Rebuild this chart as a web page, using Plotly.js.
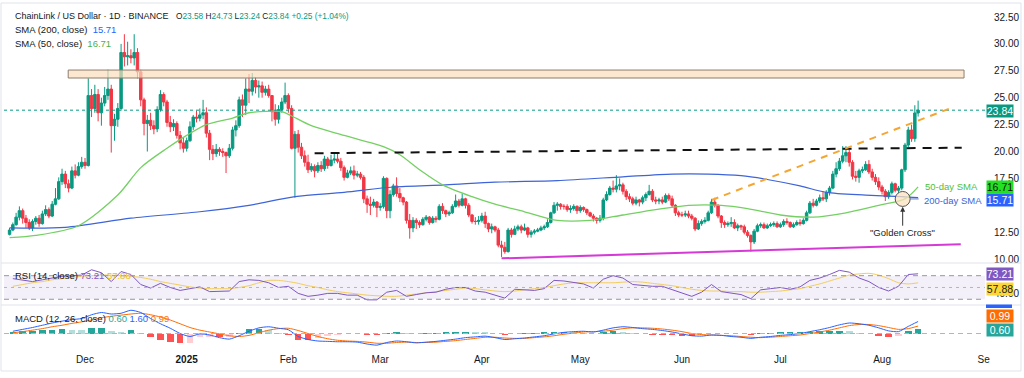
<!DOCTYPE html>
<html><head><meta charset="utf-8">
<script src="https://cdn.plot.ly/plotly-3.0.1.min.js"></script>
<style>html,body{margin:0;padding:0;background:#fff;overflow:hidden}#chart{width:1024px;height:378px}</style>
</head><body><div id="chart"></div>
<script>
// ---------- DATA ----------
const firstCandle = [2024, 10, 8];   // 2024-11-08, daily candles
const opens = [
 12.3,12.7,13.2,13.9,14.5,13.8,13.4,12.9,13.5,13.8,13.3,14.2,14.6,14.0,15.1,15.6,17.2,17.9,17.0,16.6,18.2,17.8,18.6,
 19.0,18.7,25.2,24.0,25.3,23.6,24.5,25.2,25.8,22.4,23.0,24.0,29.2,28.8,28.9,28.7,29.2,27.4,24.8,22.6,22.9,22.4,22.1,23.9,25.3,24.6,22.7,22.3,22.6,21.5,20.8,
 20.3,21.0,22.3,23.2,23.1,23.4,23.6,21.7,20.2,19.8,20.2,20.0,19.9,19.6,20.3,22.0,22.4,24.8,24.3,25.8,25.6,26.6,26.0,26.1,25.5,25.8,25.2,23.7,23.0,23.9,24.6,
 25.2,24.0,20.3,21.6,20.4,19.6,19.0,18.3,18.6,18.2,18.7,18.4,19.3,18.7,19.2,19.3,19.1,18.5,17.6,18.0,18.2,17.8,17.9,17.6,15.6,15.1,15.0,15.3,
 14.8,14.9,17.5,14.5,16.0,16.8,16.1,15.7,15.3,13.6,12.9,13.6,13.4,13.2,13.7,13.9,13.4,13.8,13.7,14.9,14.5,14.2,14.3,14.9,15.4,15.0,15.6,15.0,14.1,13.5,13.5,
 13.6,14.0,13.3,12.8,13.0,12.7,11.3,11.1,10.7,12.7,12.3,12.8,13.0,12.7,12.9,12.3,12.5,12.6,12.7,12.9,13.0,13.4,14.3,15.0,15.1,14.9,14.9,14.6,14.7,14.9,
 14.5,14.8,14.6,14.3,14.0,13.8,13.6,13.8,15.5,16.0,16.6,16.5,16.8,16.9,16.3,15.8,15.6,15.2,15.5,15.3,15.7,16.0,16.3,15.5,15.4,15.5,15.3,15.9,15.6,15.0,14.3,
 14.1,14.1,14.2,14.0,13.8,12.8,13.3,13.5,13.6,14.3,15.3,15.0,14.0,13.4,13.2,13.3,13.4,12.9,13.1,13.0,12.5,12.2,11.6,12.6,13.1,13.2,12.9,13.1,13.2,13.3,
 13.0,13.2,13.5,13.4,13.0,13.2,13.4,13.3,13.6,14.3,15.2,15.0,15.4,15.7,15.6,16.2,16.6,17.9,18.4,19.1,19.6,19.9,19.0,17.7,17.6,18.2,18.3,18.8,18.1,17.6,17.2,
 16.7,16.3,15.8,16.2,17.0,16.4,16.6,18.3,20.6,22.0,21.2,23.58];
const highs = [
 12.9,13.4,14.3,14.9,14.7,14.1,13.7,13.7,14.0,14.1,14.5,15.0,14.8,15.4,16.6,17.6,18.4,18.2,17.4,18.6,18.8,19.0,19.5,
 19.4,26.8,25.8,26.2,25.8,25.0,26.0,27.6,26.2,23.5,24.5,30.0,30.9,30.2,29.5,30.9,29.6,27.6,25.0,23.4,23.6,22.9,24.2,25.7,25.5,24.8,23.3,23.0,22.8,21.9,21.3,
 21.3,22.8,23.4,23.8,24.0,24.8,24.1,22.0,20.6,20.7,20.4,20.3,20.0,20.7,22.3,22.9,25.1,25.3,26.8,27.2,27.3,26.9,26.6,26.5,26.1,26.2,25.2,24.4,24.3,25.0,26.4,
 25.4,24.3,21.9,22.0,20.8,20.1,19.7,18.9,18.8,19.0,19.1,19.6,19.5,19.7,19.9,19.9,19.4,18.7,18.3,18.6,18.7,18.2,18.1,17.8,15.9,15.8,15.6,15.4,
 15.2,17.7,17.6,16.4,17.0,17.6,16.6,15.8,15.4,14.2,13.9,13.8,13.6,13.9,14.1,14.0,14.0,14.0,15.1,15.2,14.6,14.5,15.1,16.0,15.6,16.1,15.7,15.2,14.2,13.9,14.0,
 14.3,14.4,13.4,13.3,13.1,12.9,11.7,11.6,12.9,12.9,13.1,13.2,13.2,13.3,13.0,12.7,12.8,12.9,13.1,13.2,13.7,14.4,15.3,15.3,15.2,15.1,15.1,15.0,15.1,15.0,
 15.0,14.9,14.7,14.4,14.2,13.9,14.1,15.7,16.3,16.8,17.3,17.8,17.5,17.1,16.5,16.1,15.8,15.8,15.6,15.9,16.2,16.9,16.5,15.8,15.7,15.8,16.1,16.1,15.9,15.1,14.5,
 14.4,14.5,14.5,14.2,13.9,13.6,13.7,13.9,14.5,15.6,15.7,15.1,14.1,13.6,13.5,13.9,13.7,13.3,13.2,13.2,12.7,12.3,12.8,13.3,13.4,13.4,13.3,13.4,13.5,13.5,
 13.4,13.7,13.8,13.5,13.4,13.6,13.7,13.8,14.5,15.4,15.6,15.6,16.0,16.3,16.4,16.8,18.2,19.0,19.4,20.5,20.5,20.2,19.2,18.2,18.4,18.6,19.1,19.2,18.4,17.9,17.6,
 16.9,16.5,16.4,17.2,17.1,16.8,18.4,20.8,22.3,22.5,24.3,24.73];
const lows = [
 12.2,12.6,13.1,13.6,13.3,12.9,12.7,12.6,13.2,13.0,13.2,14.0,13.8,13.9,15.0,15.5,16.9,16.6,16.2,16.5,17.5,17.7,18.4,
 18.4,18.6,23.2,23.6,22.8,22.4,24.2,24.8,19.9,21.0,22.3,23.8,27.9,28.0,28.2,28.0,26.8,24.2,21.5,20.0,22.0,21.6,21.8,23.7,24.2,22.3,21.8,21.9,21.2,20.2,19.9,
 20.0,20.9,22.0,22.7,22.8,23.0,21.3,19.2,19.2,19.5,19.6,19.5,18.0,19.4,20.1,21.4,22.2,23.2,23.4,24.5,25.2,25.4,25.0,25.0,25.2,25.0,22.8,22.4,22.6,23.6,24.4,
 23.6,20.2,15.7,19.9,19.3,18.6,18.0,18.1,17.6,18.0,18.1,18.2,18.4,18.6,18.9,18.9,18.2,17.3,17.5,17.8,17.4,17.6,17.4,15.2,14.3,14.1,14.8,13.9,
 14.5,14.7,13.8,13.8,15.8,15.8,15.3,15.0,13.3,11.9,12.5,12.8,12.9,13.1,13.5,13.2,13.3,13.4,13.6,14.2,13.9,14.0,14.2,14.8,14.8,14.9,14.7,13.9,13.3,13.2,13.2,
 13.4,12.9,12.5,12.4,12.5,11.1,10.2,10.5,10.6,12.0,12.3,12.6,12.4,12.6,12.0,12.0,12.3,12.5,12.6,12.7,12.9,13.3,14.2,14.5,14.6,14.6,14.4,14.3,14.5,14.2,
 14.3,14.4,14.1,13.9,13.5,13.3,13.4,13.6,15.4,15.9,16.2,16.2,16.4,16.0,15.5,15.3,15.0,15.0,14.9,15.1,15.4,15.9,15.3,15.1,15.1,15.1,15.2,15.4,14.8,14.0,13.9,
 13.9,13.9,13.8,13.6,12.6,12.7,13.1,13.3,13.5,14.2,14.8,13.8,12.9,12.9,13.0,13.0,12.8,12.6,12.7,12.3,12.0,10.7,11.4,12.5,12.9,12.8,12.8,13.0,13.0,12.9,
 12.9,13.0,13.2,12.9,12.9,13.1,13.1,13.2,13.5,14.2,14.8,14.9,15.2,15.4,15.3,15.9,16.5,17.6,18.2,18.9,19.0,18.6,17.4,17.2,17.1,18.0,18.2,17.9,17.3,16.9,16.4,
 16.0,15.4,15.6,16.0,16.2,16.1,16.4,18.1,20.4,20.9,20.9,23.24];
const closes = [
 12.7,13.2,13.9,14.5,13.8,13.4,12.9,13.5,13.8,13.3,14.2,14.6,14.0,15.1,15.6,17.2,17.9,17.0,16.6,18.2,17.8,18.6,19.0,
 18.7,25.2,24.0,25.3,23.6,24.5,25.2,25.8,22.4,23.0,24.0,29.2,28.8,28.9,28.7,29.2,27.4,24.8,22.6,22.9,22.4,22.1,23.9,25.3,24.6,22.7,22.3,22.6,21.5,20.8,20.3,
 21.0,22.3,23.2,23.1,23.4,23.6,21.7,20.2,19.8,20.2,20.0,19.9,19.6,20.3,22.0,22.4,24.8,24.3,25.8,25.6,26.6,26.0,26.1,25.5,25.8,25.2,23.7,23.0,23.9,24.6,25.2,
 24.0,20.3,21.6,20.4,19.6,19.0,18.3,18.6,18.2,18.7,18.4,19.3,18.7,19.2,19.3,19.1,18.5,17.6,18.0,18.2,17.8,17.9,17.6,15.6,15.1,15.0,15.3,14.8,
 14.9,17.5,14.5,16.0,16.8,16.1,15.7,15.3,13.6,12.9,13.6,13.4,13.2,13.7,13.9,13.4,13.8,13.7,14.9,14.5,14.2,14.3,14.9,15.4,15.0,15.6,15.0,14.1,13.5,13.5,13.6,
 14.0,13.3,12.8,13.0,12.7,11.3,11.1,10.7,12.7,12.3,12.8,13.0,12.7,12.9,12.3,12.5,12.6,12.7,12.9,13.0,13.4,14.3,15.0,15.1,14.9,14.9,14.6,14.7,14.9,14.5,
 14.8,14.6,14.3,14.0,13.8,13.6,13.8,15.5,16.0,16.6,16.5,16.8,16.9,16.3,15.8,15.6,15.2,15.5,15.3,15.7,16.0,16.3,15.5,15.4,15.5,15.3,15.9,15.6,15.0,14.3,14.1,
 14.1,14.2,14.0,13.8,12.8,13.3,13.5,13.6,14.3,15.3,15.0,14.0,13.4,13.2,13.3,13.4,12.9,13.1,13.0,12.5,12.2,11.6,12.6,13.1,13.2,12.9,13.1,13.2,13.3,13.0,
 13.2,13.5,13.4,13.0,13.2,13.4,13.3,13.6,14.3,15.2,15.0,15.4,15.7,15.6,16.2,16.6,17.9,18.4,19.1,19.6,19.9,19.0,17.7,17.6,18.2,18.3,18.8,18.1,17.6,17.2,16.7,
 16.3,15.8,16.2,17.0,16.4,16.6,18.3,20.6,22.0,21.2,23.58,23.84];

const sma200Dates = ['2024-11-08','2024-11-25','2024-12-15','2025-01-05','2025-01-20','2025-02-03','2025-02-18','2025-03-05','2025-03-21','2025-04-05','2025-04-24','2025-05-14','2025-05-29','2025-06-09','2025-06-19','2025-06-27','2025-07-07','2025-07-15','2025-07-27','2025-08-07','2025-08-12'];
const sma200 = [12.9,12.95,13.8,14.4,15.0,15.8,16.2,16.7,16.9,17.15,17.3,17.65,17.9,17.9,17.75,17.4,16.8,16.2,15.95,15.8,15.71];
const sma50Dates = ['2024-11-08','2024-11-16','2024-11-29','2024-12-11','2024-12-18','2024-12-26','2025-01-01','2025-01-07','2025-01-15','2025-01-20','2025-01-30','2025-02-02','2025-02-08','2025-02-18','2025-03-02','2025-03-07','2025-03-13','2025-03-20','2025-03-29','2025-04-05','2025-04-14','2025-04-24','2025-05-04','2025-05-14','2025-05-24','2025-06-03','2025-06-13','2025-06-21','2025-07-01','2025-07-11','2025-07-21','2025-07-31','2025-08-08','2025-08-12'];
const sma50 = [12.0,12.2,13.1,15.95,18.5,20.3,21.5,22.5,23.1,23.6,23.7,23.3,22.4,21.5,20.45,19.7,18.3,16.9,15.8,15.1,14.4,13.6,13.6,14.1,14.6,15.0,15.0,14.7,14.1,13.9,14.3,15.0,15.6,16.71];

// oscillators sampled every 3 days starting 2024-11-09
const oscStart = [2024, 10, 9];
const oscStepDays = 3;
const rsi = [65,63,60,63,66,69,70,71,80,75, 60,77,72,55,49,57,50,45,48,51, 43,44,44,60,63,62,58,50,52,40,
 35,37,40,40,37,37,29,29,42,45, 35,38,41,42,47,50,50,44,42,37, 32,47,46,45,48,62,61,59,56,49,
 64,70,66,55,53,52,52,46,40,35, 42,55,43,41,38,31,46,48,50,47, 51,62,66,72,79,76,66,60,50,44, 52,72,73.21];
const rsiMA = [52,55,58,60,63,65,67,69,70,71, 71,70,69,67,64,60,57,54,51,49, 48,48,48,50,53,58,62,62,60,57,
 53,50,46,43,41,39,37,36,35,35, 37,39,41,43,45,47,49,48,46,44, 43,44,46,48,50,53,56,58,58,58,
 58,58,59,60,59,57,55,53,50,47, 45,44,44,43,43,42,42,43,44,46, 48,52,56,61,66,71,73,74,71,65, 58,56,57.88];
const macd = [0.3,0.55,0.8,1.1,1.4,1.65,1.85,2.0,2.5,2.8, 2.6,2.7,3.1,2.8,2.0,1.3,0.7,0.0,-0.4,-0.05,
 -0.2,-0.55,-0.75,-0.3,0.3,0.75,0.9,0.7,0.5,-0.4, -0.8,-1.0,-1.05,-1.1,-1.1,-1.15,-1.4,-1.55,-1.2,-1.0,
 -1.1,-1.25,-1.15,-1.05,-0.9,-0.75,-0.55,-0.45,-0.35,-0.55, -0.8,-0.7,-0.6,-0.45,-0.3,-0.05,0.15,0.25,0.3,0.2,
 0.45,0.75,0.9,0.8,0.65,0.55,0.4,0.2,-0.05,-0.3, -0.35,-0.2,-0.25,-0.4,-0.5,-0.65,-0.5,-0.4,-0.25,-0.15,
 0.0,0.25,0.5,0.8,1.15,1.4,1.3,1.1,0.75,0.35, 0.25,0.95,1.6];
const signal = [0.1,0.25,0.45,0.65,0.9,1.1,1.35,1.55,1.8,2.1, 2.3,2.45,2.6,2.7,2.5,2.2,1.8,1.3,0.8,0.45,
 0.2,-0.05,-0.3,-0.4,-0.25,0.1,0.45,0.65,0.7,0.4, 0.0,-0.4,-0.7,-0.9,-1.0,-1.05,-1.15,-1.3,-1.3,-1.2,
 -1.15,-1.2,-1.2,-1.15,-1.05,-0.95,-0.8,-0.65,-0.5,-0.5, -0.6,-0.65,-0.65,-0.55,-0.45,-0.3,-0.1,0.05,0.2,0.25,
 0.3,0.45,0.65,0.75,0.75,0.7,0.6,0.45,0.25,0.0, -0.15,-0.2,-0.25,-0.3,-0.4,-0.5,-0.55,-0.5,-0.4,-0.3,
 -0.2,0.0,0.2,0.45,0.75,1.05,1.2,1.2,1.05,0.8, 0.55,0.65,0.99];

const monthTickDates = ['2024-12-01','2025-01-01','2025-02-01','2025-03-01','2025-04-01','2025-05-01','2025-06-01','2025-07-01','2025-08-01','2025-09-01'];
const monthTickLabels = ['Dec','<b>2025</b>','Feb','Mar','Apr','May','Jun','Jul','Aug','Se'];
const priceTicks = [10,12.5,17.5,20,22.5,25,27.5,30,32.5];   // 15.00 is hidden behind the SMA tags in the reference
const rsiTicks = [40];
const lastBar = {o:'23.58', h:'24.73', l:'23.24', c:'23.84', chg:'+0.25 (+1.04%)'};
const smaLast = {s200:'15.71', s50:'16.71'};
const oscLast = {rsi:'73.21', rsiMA:'57.88', hist:'0.60', macd:'1.60', sig:'0.99'};
const zone = {from:'2024-11-25 21:00', to:'2025-08-26', low:26.83, high:27.57};
const resistance = {x0:'2025-02-09', y0:19.84, x1:'2025-08-25 07:00', y1:20.35};
const risingLine = {x0:'2025-06-10 02:00', y0:15.49, x1:'2025-08-23', y1:24.16};
const supportLine = {x0:'2025-04-07', y0:10.07, x1:'2025-08-25', y1:11.38};
const cross = {x:'2025-08-07 07:00', y:15.59};

// ---------- helpers ----------
function dayStr(y, m, d) { return new Date(Date.UTC(y, m, d)).toISOString().slice(0, 10); }
const dates = closes.map((_, i) => dayStr(firstCandle[0], firstCandle[1], firstCandle[2] + i));
const oscDates = rsi.map((_, i) => dayStr(oscStart[0], oscStart[1], oscStart[2] + oscStepDays * i));
const hist = macd.map((v, i) => +(v - signal[i]).toFixed(2));
const histColors = hist.map((v, i) => {
  const prev = i > 0 ? hist[i - 1] : v;
  if (v >= 0) return v >= prev ? '#26a69a' : '#b2dfdb';
  return v <= prev ? '#ff5252' : '#ffcdd2';
});

const FF = 'Liberation Sans, Arial, sans-serif';
const L = 4, R = 39, T = 8, B = 31, W = 1024, H = 378;
const PW = W - L - R, PH = H - T - B;
const px = X => (X - L) / PW;          // pixel -> paper x
const py = Y => (H - B - Y) / PH;      // pixel -> paper y

const traces = [
  {type:'candlestick', x:dates, open:opens, high:highs, low:lows, close:closes, xaxis:'x', yaxis:'y',
   increasing:{line:{color:'#089981', width:1}, fillcolor:'#089981'},
   decreasing:{line:{color:'#f23645', width:1}, fillcolor:'#f23645'},
   whiskerwidth:0, hoverinfo:'skip', showlegend:false},
  {type:'scatter', mode:'lines', x:sma200Dates, y:sma200, xaxis:'x', yaxis:'y',
   line:{color:'#3d64d8', width:1.2, shape:'spline', smoothing:0.8}, hoverinfo:'skip', showlegend:false},
  {type:'scatter', mode:'lines', x:sma50Dates, y:sma50, xaxis:'x', yaxis:'y',
   line:{color:'#74d063', width:1.3, shape:'spline', smoothing:0.8}, hoverinfo:'skip', showlegend:false},
  {type:'scatter', mode:'lines', x:oscDates, y:rsiMA, xaxis:'x', yaxis:'y2',
   line:{color:'#f2cd5c', width:1, shape:'spline', smoothing:0.6}, hoverinfo:'skip', showlegend:false},
  {type:'scatter', mode:'lines', x:oscDates, y:rsi, xaxis:'x', yaxis:'y2',
   line:{color:'#7e57c2', width:1}, hoverinfo:'skip', showlegend:false},
  {type:'bar', x:oscDates, y:hist, xaxis:'x', yaxis:'y3', marker:{color:histColors, line:{width:0}},
   width:2 * 86400000, hoverinfo:'skip', showlegend:false},
  {type:'scatter', mode:'lines', x:oscDates, y:signal, xaxis:'x', yaxis:'y3',
   line:{color:'#ff6d00', width:1, shape:'spline', smoothing:0.6}, hoverinfo:'skip', showlegend:false},
  {type:'scatter', mode:'lines', x:oscDates, y:macd, xaxis:'x', yaxis:'y3',
   line:{color:'#2962ff', width:1, shape:'spline', smoothing:0.6}, hoverinfo:'skip', showlegend:false}
];

const sepColor = '#e0e3eb';
const shapes = [
  // border + pane separators
  {type:'rect', xref:'paper', yref:'paper', x0:px(1), x1:px(1021), y0:py(371), y1:py(3), line:{color:sepColor, width:1}, fillcolor:'rgba(0,0,0,0)', layer:'below'},
  {type:'line', xref:'paper', yref:'paper', x0:px(1), x1:px(1021), y0:py(263), y1:py(263), line:{color:sepColor, width:1}},
  {type:'line', xref:'paper', yref:'paper', x0:px(1), x1:px(1021), y0:py(305), y1:py(305), line:{color:sepColor, width:1}},
  // resistance zone
  {type:'rect', xref:'x', yref:'y', x0:zone.from, x1:zone.to, y0:zone.low, y1:zone.high,
   fillcolor:'rgba(251,222,190,0.7)', line:{color:'#8d7d6d', width:1}, layer:'above'},
  // current price dotted line
  {type:'line', xref:'paper', yref:'y', x0:0, x1:1, y0:+lastBar.c, y1:+lastBar.c, line:{color:'#089981', width:1, dash:'dot'}},
  // black dashed horizontal
  {type:'line', xref:'x', yref:'y', x0:resistance.x0, y0:resistance.y0, x1:resistance.x1, y1:resistance.y1, line:{color:'#111111', width:2, dash:'9px,7px'}},
  // orange rising dashed
  {type:'line', xref:'x', yref:'y', x0:risingLine.x0, y0:risingLine.y0, x1:risingLine.x1, y1:risingLine.y1, line:{color:'#f5a632', width:2, dash:'7px,6px'}},
  // magenta support
  {type:'line', xref:'x', yref:'y', x0:supportLine.x0, y0:supportLine.y0, x1:supportLine.x1, y1:supportLine.y1, line:{color:'#d63ad6', width:2}},
  // golden cross circle + pointer to label
  {type:'circle', xref:'x', yref:'y', xsizemode:'pixel', ysizemode:'pixel', xanchor:cross.x, yanchor:cross.y,
   x0:-7.5, x1:7.5, y0:-7.5, y1:7.5, fillcolor:'rgba(252,226,190,0.75)', line:{color:'#555555', width:1}},
  {type:'line', xref:'x', yref:'y', xsizemode:'pixel', xanchor:cross.x, x0:7.5, x1:16, y0:cross.y, y1:cross.y, line:{color:'#5b7bd5', width:1}},
  // RSI band & levels
  {type:'rect', xref:'paper', yref:'y2', x0:0, x1:1, y0:30, y1:70, fillcolor:'rgba(126,87,194,0.09)', line:{width:0}, layer:'below'},
  {type:'line', xref:'paper', yref:'y2', x0:0, x1:1, y0:70, y1:70, line:{color:'#9598a1', width:1, dash:'5px,4px'}},
  {type:'line', xref:'paper', yref:'y2', x0:0, x1:1, y0:50, y1:50, line:{color:'#b2b5be', width:1, dash:'3px,4px'}},
  {type:'line', xref:'paper', yref:'y2', x0:0, x1:1, y0:30, y1:30, line:{color:'#9598a1', width:1, dash:'5px,4px'}},
  // MACD zero line
  {type:'line', xref:'paper', yref:'y3', x0:0, x1:1, y0:0, y1:0, line:{color:'#b2b5be', width:1, dash:'5px,4px'}},
  // partially hidden MACD value tag
  {type:'rect', xref:'paper', yref:'paper', x0:px(986), x1:px(1012), y0:py(308), y1:py(304.5), fillcolor:'#2962ff', line:{width:0}}
];

function tag(text, Y, bg, fg) {
  return {xref:'paper', yref:'paper', x:px(986), xanchor:'left', y:py(Y), yanchor:'middle', text:text,
    showarrow:false, bgcolor:bg, font:{family:FF, size:10.5, color:fg}, width:26, height:12, borderpad:0, align:'center'};
}
function note(text, X, Y, size, color) {
  return {xref:'paper', yref:'paper', x:px(X), xanchor:'left', y:py(Y), yanchor:'middle', text:text,
    showarrow:false, font:{family:FF, size:size, color:color}, align:'left'};
}
const g = s => `<span style="color:#089981">${s}</span>`;
const annotations = [
  note('ChainLink / US Dollar · 1D · BINANCE', 13, 16, 9, '#131722'),
  note(`O${g(lastBar.o)} H${g(lastBar.h)} L${g(lastBar.l)} C${g(lastBar.c)} ${g(lastBar.chg)}`, 174, 16.5, 8.3, '#131722'),
  note(`SMA (200, close)  <span style="color:#2962ff">${smaLast.s200}</span>`, 13, 29.5, 9.5, '#131722'),
  note(`SMA (50, close)  <span style="color:#4caf50">${smaLast.s50}</span>`, 13, 43, 9.5, '#131722'),
  note(`RSI (14, close) <span style="color:#7e57c2">${oscLast.rsi}</span> <span style="color:#e8c020">${oscLast.rsiMA}</span>`, 13, 275, 9.5, '#131722'),
  note(`MACD (12, 26, close) <span style="color:#26a69a">${oscLast.hist}</span> <span style="color:#2962ff">${oscLast.macd}</span> <span style="color:#ff6d00">${oscLast.sig}</span>`, 13, 318.5, 9.5, '#131722'),
  note('50-day SMA', 923, 186, 9.5, '#4cc23a'),
  note('200-day SMA', 922, 200.5, 9.5, '#3d64d8'),
  {xref:'x', yref:'y', x:cross.x, y:cross.y - 0.72, ax:0, ay:26, text:'"Golden Cross"', showarrow:true,
   arrowhead:2, arrowsize:1, arrowwidth:1, arrowcolor:'#333333', standoff:0, font:{family:FF, size:9.5, color:'#222222'}},
  tag(lastBar.c, 111, '#089981', '#ffffff'),
  tag(smaLast.s50, 187, '#22e022', '#111111'),
  tag(smaLast.s200, 200.5, '#2962ff', '#ffffff'),
  tag(oscLast.rsi, 273.5, '#7e57c2', '#ffffff'),
  tag(oscLast.rsiMA, 288.5, '#fdd835', '#222222'),
  tag(oscLast.sig, 316, '#ff6d00', '#ffffff'),
  tag(oscLast.hist, 330, '#26a69a', '#ffffff')
];

const fmt2 = v => v.toFixed(2);
const layout = {
  width:W, height:H, margin:{l:L, r:R, t:T, b:B, pad:0},
  paper_bgcolor:'#ffffff', plot_bgcolor:'#ffffff',
  font:{family:FF, size:10, color:'#131722'},
  showlegend:false, boxgap:0.25, boxgroupgap:0, bargap:0,
  xaxis:{type:'date', range:['2024-11-06 07:19','2025-09-01 09:22'], anchor:'y3', showgrid:false, zeroline:false,
    showline:false, ticks:'', tickvals:monthTickDates, ticktext:monthTickLabels, tickfont:{size:10, color:'#131722'},
    ticklabelstandoff:5, rangeslider:{visible:false}, fixedrange:true},
  yaxis:{domain:[py(262), 1], range:[9.731, 33.336], side:'right', showgrid:false, zeroline:false, showline:false,
    ticks:'', tickvals:priceTicks, ticktext:priceTicks.map(fmt2), tickfont:{size:10, color:'#131722'}, ticklabelstandoff:8, fixedrange:true},
  yaxis2:{domain:[py(304), py(264)], range:[22.0, 89.8], side:'right', showgrid:false, zeroline:false, showline:false,
    ticks:'', tickvals:rsiTicks, ticktext:rsiTicks.map(fmt2), tickfont:{size:10, color:'#131722'}, ticklabelstandoff:8, fixedrange:true},
  yaxis3:{domain:[0, py(306)], range:[-1.8, 3.667], side:'right', showgrid:false, zeroline:false, showline:false,
    showticklabels:false, ticks:'', fixedrange:true},
  shapes:shapes, annotations:annotations
};

Plotly.newPlot('chart', traces, layout, {displayModeBar:false, staticPlot:true});
</script>
</body></html>
